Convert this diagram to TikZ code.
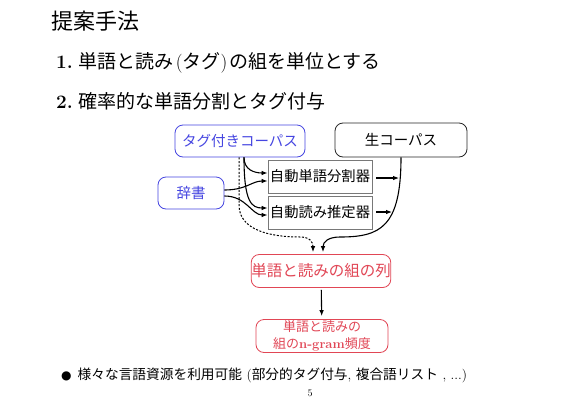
\documentclass[tikz,border=0pt]{standalone}
\usepackage{fontspec}
\newfontfamily\cjk{Noto Sans CJK JP}
\newfontfamily\dejavu{DejaVu Sans}
\usetikzlibrary{arrows.meta,calc}
\definecolor{nblue}{RGB}{70,70,225}
\definecolor{nred}{RGB}{225,70,85}
\definecolor{ngray}{RGB}{120,120,120}
\newcommand{\fs}[1]{\fontsize{#1}{#1}\selectfont}
\begin{document}
\begin{tikzpicture}[x=1pt,y=-1pt,
  bluebox/.style={draw=nblue, text=nblue, rounded corners=8pt, line width=0.8pt,
    minimum height=32pt, inner sep=0pt, font=\cjk\fs{14.5}},
  blackbox/.style={draw=black!85, rounded corners=8pt, line width=0.8pt,
    minimum height=34pt, inner sep=0pt, font=\cjk\fs{14.5}},
  graybox/.style={draw=ngray, line width=0.7pt, minimum width=104pt,
    minimum height=33pt, inner sep=0pt, font=\cjk\fs{14.3}},
  redbox/.style={draw=nred, text=nred, rounded corners=8pt, line width=0.8pt,
    minimum width=132pt, minimum height=33pt, inner sep=0pt},
  arr/.style={line width=1.1pt, -{Latex[length=6pt,width=4.6pt]}},
  dotarr/.style={line width=1pt, dash pattern=on 2pt off 1.6pt, -{Latex[length=6pt,width=4.6pt]}},
  txt/.style={anchor=west, inner sep=0pt}
]
\useasboundingbox (0,0) rectangle (576,410);
\fill[white] (0,0) rectangle (576,410);

% heading and items
\node[txt, font=\cjk\fs{22}] (title) at (51,21) {提案手法};
\node[txt, font=\fs{19}] (item1) at (56,63)
  {\textbf{1.}\hspace{6pt}{\cjk 単語と読み}\hspace{2pt}({\cjk タグ})\hspace{2pt}{\cjk の組を単位とする}};
\node[txt, font=\fs{19}] (item2) at (56,101)
  {\textbf{2.}\hspace{6pt}{\cjk 確率的な単語分割とタグ付与}};

% diagram nodes
\node[bluebox, minimum width=130pt] (tagc) at (240,141) {タグ付きコーパス};
\node[blackbox, minimum width=132pt] (raw) at (401,140) {生コーパス};
\node[bluebox, minimum width=66pt] (dict) at (191,193) {辞書};
\node[graybox] (seg) at (320,176.5) {自動単語分割器};
\node[graybox] (yomi) at (320,212.5) {自動読み推定器};
\node[redbox, font=\cjk\fs{15.5}] (seq) at (321,271) {単語と読みの組の列};
\node[redbox, align=center, font=\cjk\fontsize{13}{17}\selectfont] (freq) at (322,336)
  {単語と読みの\\組の{\rmfamily\bfseries n-gram}頻度};

% helper coordinates
\coordinate (c1) at (399,178);
\coordinate (c2) at (392,212);
\coordinate (d1) at (239,205);
\coordinate (d2) at (300,237);
\coordinate (r1) at (340,237);

% connectors into the tools
\draw[arr] ($(tagc.south)+(4,0)$) .. controls +(0,12) and +(-14,0) .. ($(seg.west)+(0,-3.5)$);
\draw[arr] ($(dict.east)+(0,-3)$) .. controls +(22,0) and +(-16,0) .. ($(seg.west)+(0,4.5)$);
\draw[arr] ($(tagc.south)+(4,0)$) .. controls +(0,45) and +(-16,0) .. ($(yomi.west)+(0,-4.5)$);
\draw[arr] ($(dict.east)+(0,3)$) .. controls +(22,0) and +(-16,0) .. ($(yomi.west)+(0,2.5)$);

% tool outputs toward the raw-corpus curve
\draw[arr] ($(seg.east)+(4,1.5)$) -- (c1);
\draw[arr] ($(yomi.east)+(4,-0.5)$) -- (c2);

% into the sequence node
\draw[dotarr] ($(tagc.south)+(-1,0)$) -- (d1) .. controls +(0,25) and +(-30,0) .. (d2)
  .. controls +(10,0) and +(0,-10) .. ($(seq.north)+(-8,-2)$);
\draw[arr] (raw.south) .. controls +(0,70) and +(40,0) .. (r1)
  .. controls +(-12,0) and +(0,-10) .. ($(seq.north)+(2,-2)$);

\draw[arr, shorten <=2pt, shorten >=3pt] (seq) -- (freq);

% bullet line and page number
\node[txt, font=\fs{13.7}] (bullet) at (61,375)
  {{\dejavu\fs{12}●}\hspace{6pt}{\cjk 様々な言語資源を利用可能} ({\cjk 部分的タグ付与}, {\cjk 複合語リスト} , ...)};
\node[font=\fs{10}] (page) at (310,393) {5};
\end{tikzpicture}
\end{document}
